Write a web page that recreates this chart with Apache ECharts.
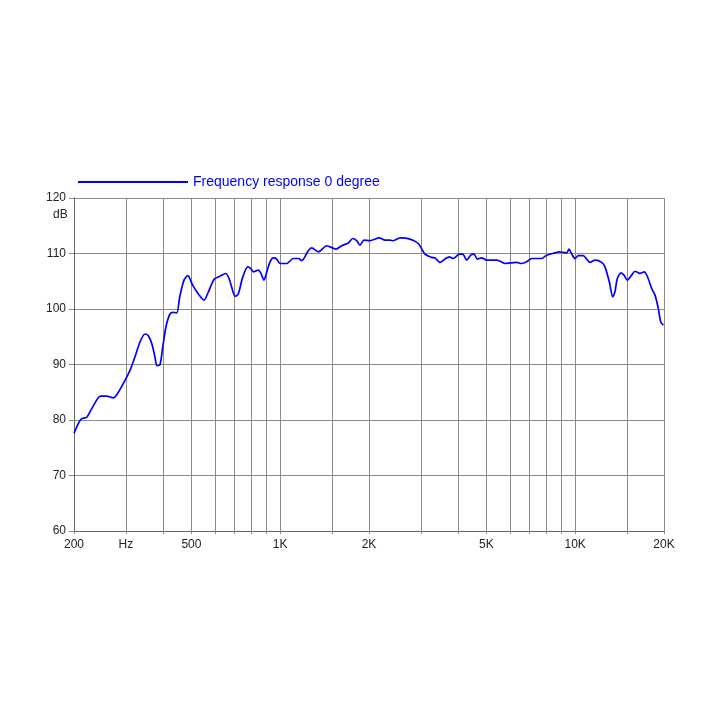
<!DOCTYPE html>
<html><head><meta charset="utf-8">
<script src="https://cdn.jsdelivr.net/npm/echarts@6/dist/echarts.min.js"></script>
<style>html,body{margin:0;padding:0;background:#fff}#c{width:726px;height:726px}</style>
</head><body><div id="c"></div>
<script>
const seriesName = 'Frequency response 0 degree';
const freqs = [200,207,212,221,230,246,258,272,279,290,310,322,335,348,357,367,376,382,391,400,410,423,434,446,457,472,486,492,505,528,552,571,598,625,654,671,685,703,721,746,776,794,811,843,859,881,904,924,948,973,999,1052,1108,1152,1183,1245,1279,1347,1438,1546,1616,1702,1761,1817,1864,1924,2016,2168,2266,2356,2418,2548,2754,2938,3096,3264,3348,3481,3620,3744,3862,4048,4157,4288,4424,4540,4658,4821,5012,5420,5561,5781,6012,6334,6585,6848,7120,7698,8006,8542,8814,9114,9359,9528,9730,9984,10244,10652,10940,11226,11674,12300,12619,13050,13400,13644,13890,14296,14636,15018,15542,15948,16580,17148,17554,18168,18644,19130,19490,19890];
const dB = [77.6,79.4,80.2,80.5,82.1,84.3,84.3,84.0,84.5,86.0,89.0,91.4,94.1,95.5,95.2,93.8,91.4,89.8,89.9,93.2,96.8,99.1,99.4,99.3,102.3,105.2,106.0,105.7,104.3,102.7,101.6,103.1,105.4,105.9,106.4,105.5,103.9,102.3,102.7,105.7,107.6,107.3,106.7,107.0,106.5,105.2,107.0,108.5,109.2,109.0,108.2,108.2,109.1,109.1,108.7,110.5,111.0,110.3,111.4,110.8,111.4,111.9,112.7,112.3,111.5,112.4,112.3,112.8,112.4,112.4,112.3,112.8,112.6,111.8,109.9,109.3,109.2,108.4,109.0,109.4,109.1,109.9,109.9,108.8,109.7,109.9,109.0,109.2,108.8,108.8,108.6,108.2,108.3,108.4,108.2,108.5,109.1,109.1,109.7,110.1,110.3,110.2,110.1,110.8,109.9,109.1,109.6,109.6,109.0,108.4,108.8,108.4,107.6,104.9,102.2,103.1,105.5,106.5,106.1,105.2,106.1,106.8,106.4,106.7,105.9,103.7,102.5,100.1,97.7,97.1];
const gridFreqs = [300,400,500,600,700,800,900,1000,1500,2000,3000,4000,5000,6000,7000,8000,9000,10000,15000,20000];
const labelFreqs = [200,300,500,1000,2000,5000,10000,20000];
const labelText = {200:'200',300:'Hz',500:'500',1000:'1K',2000:'2K',5000:'5K',10000:'10K',20000:'20K'};
const yMin = 60, yMax = 120, yStep = 10;

const chart = echarts.init(document.getElementById('c'));
const font = 'Liberation Sans, Arial, Helvetica, sans-serif';
chart.setOption({
  animation: false,
  textStyle: {fontFamily: font},
  legend: {
    left: 73, top: 170, itemWidth: 110, itemHeight: 2, icon: 'rect', itemGap: 5,
    textStyle: {color: '#0000ff', fontSize: 14, fontFamily: font},
    data: [seriesName]
  },
  grid: {left: 74, right: 62, top: 198, bottom: 195, containLabel: false},
  xAxis: {
    type: 'log', logBase: 10, min: 200, max: 20000,
    axisLine: {show: true, lineStyle: {color: '#666', width: 1}},
    axisTick: {show: true, length: 3, customValues: gridFreqs.concat([200]), lineStyle: {color: '#888'}},
    axisLabel: {customValues: labelFreqs, color: '#222', fontSize: 12, margin: 8,
      formatter: v => labelText[Math.round(v)] || ''},
    splitLine: {show: true, lineStyle: {color: '#8a8a8a', width: 1}},
    minorTick: {show: false}
  },
  yAxis: {
    type: 'value', min: yMin, max: yMax, interval: yStep,
    axisLine: {show: true, lineStyle: {color: '#666'}},
    axisTick: {show: true, length: 5, lineStyle: {color: '#888'}},
    axisLabel: {color: '#222', fontSize: 12, margin: 8},
    splitLine: {show: true, lineStyle: {color: '#8a8a8a', width: 1}}
  },
  graphic: [{type: 'text', left: 53, top: 209, style: {text: 'dB', fill: '#222', font: '12px ' + font}}],
  series: [{
    name: seriesName, type: 'line', showSymbol: false, smooth: 0.25,
    lineStyle: {color: '#0000ff', width: 1.7}, itemStyle: {color: '#0000ff'},
    data: freqs.map((f, i) => [f, dB[i]])
  }]
});
</script></body></html>
